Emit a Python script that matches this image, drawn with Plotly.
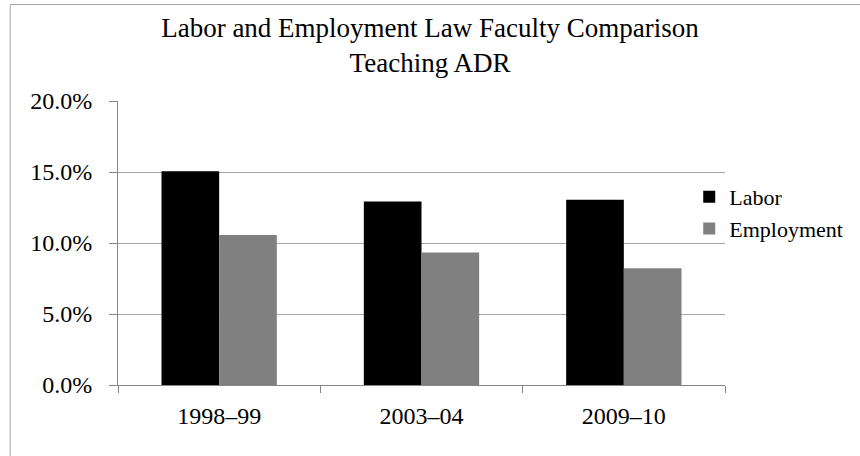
import plotly.graph_objects as go

categories = ["1998–99", "2003–04", "2009–10"]
labor = [0.1505, 0.1293, 0.1305]
employment = [0.1056, 0.0933, 0.0823]
title_lines = ["Labor and Employment Law Faculty Comparison", "Teaching ADR"]

FONT = "Liberation Serif, Times New Roman, serif"

fig = go.Figure()
fig.add_trace(go.Bar(name="Labor", x=categories, y=labor, marker=dict(color="#000000", line=dict(width=0))))
fig.add_trace(go.Bar(name="Employment", x=categories, y=employment, marker=dict(color="#808080", line=dict(width=0))))

L, R, T, B = 118, 131, 101, 71
W, H = 860, 456
pw = W - L - R
ph = H - T - B

def px(x):
    return (x - L) / pw

def py(y):
    return (385 - y) / ph

border = dict(color="#A6A6A6", width=1)

fig.update_layout(
    width=W, height=H,
    margin=dict(l=L, r=R, t=T, b=B),
    paper_bgcolor="white", plot_bgcolor="white",
    barmode="group", bargap=0.43, bargroupgap=0,
    font=dict(family=FONT, size=24, color="#000000"),
    title=dict(text="<br>".join(title_lines), x=0.5, xanchor="center",
               yref="container", y=1 - 37 / H, yanchor="top",
               font=dict(family=FONT, size=27, color="#000000")),
    showlegend=True,
    legend=dict(x=px(693), xanchor="left", y=py(176), yanchor="top",
                bgcolor="rgba(0,0,0,0)", borderwidth=0, itemwidth=30,
                tracegroupgap=0, font=dict(family=FONT, size=22, color="#000000")),
    xaxis=dict(showline=True, linecolor="#868686", linewidth=1,
               ticks="outside", tickson="boundaries", ticklen=7, tickcolor="#868686",
               showgrid=False, ticklabelstandoff=9,
               tickfont=dict(family=FONT, size=24, color="#000000")),
    yaxis=dict(range=[0, 0.2], dtick=0.05, tickformat=".1%",
               showline=True, linecolor="#868686", linewidth=1,
               ticks="outside", ticklen=8, tickcolor="#868686",
               showgrid=True, gridcolor="#A6A6A6", gridwidth=1,
               zeroline=False, ticklabelstandoff=12,
               tickfont=dict(family=FONT, size=24, color="#000000")),
    shapes=[
        dict(type="line", xref="paper", yref="paper", x0=px(9.5), x1=px(W + 5),
             y0=py(4.5), y1=py(4.5), line=border, layer="above"),
        dict(type="line", xref="paper", yref="paper", x0=px(9.5), x1=px(9.5),
             y0=py(4.5), y1=py(H + 5), line=border, layer="above"),
    ],
)

fig.write_html("out.html", config={"displayModeBar": False},
               post_script="document.body.style.margin='0';document.body.style.overflow='hidden';")
